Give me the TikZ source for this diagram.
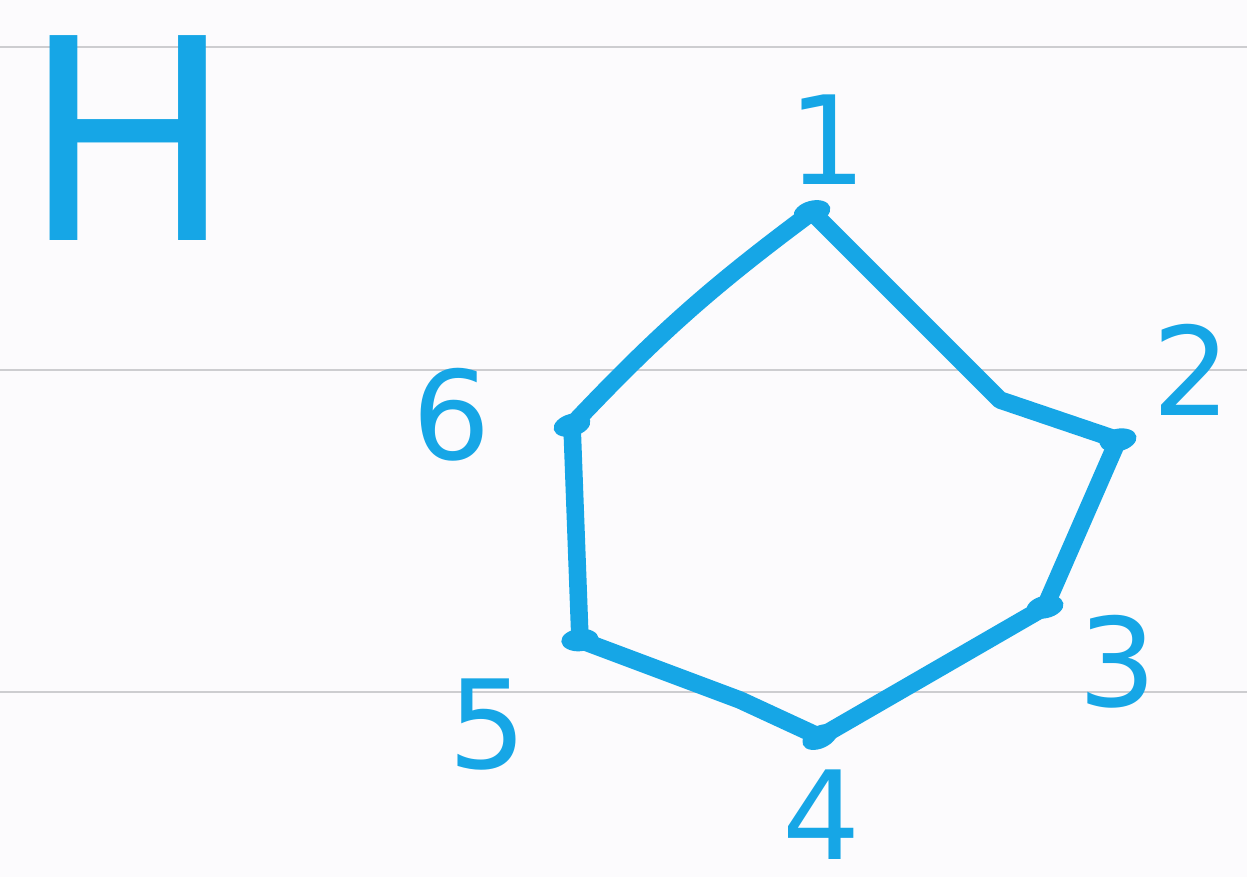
\documentclass[tikz,border=0pt]{standalone}
\usepackage{fontspec}
\setmainfont{DejaVu Sans}
\usetikzlibrary{shapes.geometric}
\definecolor{ink}{RGB}{22,166,230}
\definecolor{rule}{RGB}{205,205,208}
\definecolor{paper}{RGB}{252,251,253}
\begin{document}
\begin{tikzpicture}[x=0.02cm,y=-0.02cm,
  vtx/.style={ellipse,fill=ink,inner sep=0pt,minimum width=0.75cm,minimum height=0.45cm},
  lbl/.style={text=ink,font=\fontsize{70}{70}\selectfont,inner sep=0pt},
  edge/.style={draw=ink,line width=10pt,line cap=round,line join=round},
  ruleline/.style={draw=rule,line width=1.5pt}]
\fill[paper] (0,0) rectangle (1247,877);
\useasboundingbox (0,0) rectangle (1247,877);
\coordinate (r1a) at (0,47); \coordinate (r1b) at (1247,47);
\coordinate (r2a) at (0,370); \coordinate (r2b) at (1247,370);
\coordinate (r3a) at (0,692); \coordinate (r3b) at (1247,692);
\draw[ruleline] (r1a) -- (r1b);
\draw[ruleline] (r2a) -- (r2b);
\draw[ruleline] (r3a) -- (r3b);
\node[text=ink,font=\fontsize{160}{160}\selectfont,inner sep=0pt] (H) at (128,138) {H};
\node[vtx,rotate=15] (v1) at (812,212) {};
\node[vtx,rotate=12] (v2) at (1118,440) {};
\node[vtx,rotate=12] (v3) at (1045,607) {};
\node[vtx,rotate=25] (v4) at (820,737) {};
\node[vtx,rotate=5] (v5) at (580,640) {};
\node[vtx,rotate=15] (v6) at (572,425) {};
\coordinate (b12) at (1000,400);
\coordinate (b45) at (740,700);
\draw[edge] (v1.center) -- (b12) -- (v2.center);
\draw[edge] (v2.center) -- (v3.center);
\draw[edge] (v3.center) -- (v4.center);
\draw[edge] (v4.center) -- (b45) -- (v5.center);
\draw[edge] (v5.center) -- (v6.center);
\draw[edge] (v6.center) to[bend left=5] (v1.center);
\node[lbl] (l1) at (828,140) {1};
\node[lbl] (l2) at (1192,370) {2};
\node[lbl] (l3) at (1118,662) {3};
\node[lbl] (l4) at (822,815) {4};
\node[lbl] (l5) at (488,725) {5};
\node[lbl] (l6) at (452,415) {6};
\end{tikzpicture}
\end{document}
